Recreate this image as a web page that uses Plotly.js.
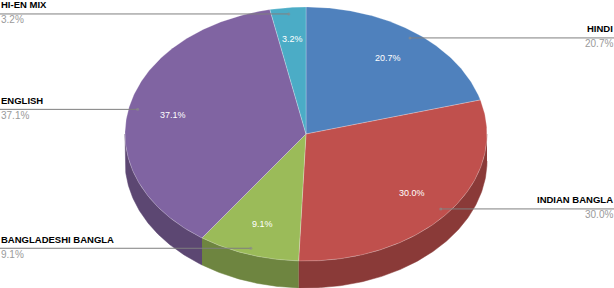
<!DOCTYPE html>
<html><head><meta charset="utf-8">
<script src="https://cdn.plot.ly/plotly-3.0.1.min.js"></script>
<style>html,body{margin:0;padding:0;background:#fff;overflow:hidden}#chart{width:614px;height:288px}</style>
</head><body><div id="chart"></div>
<script>
// ---- data ----
const categories = ['HINDI', 'INDIAN BANGLA', 'BANGLADESHI BANGLA', 'ENGLISH', 'HI-EN MIX'];
const values = [20.7, 30.0, 9.1, 37.1, 3.2];

// ---- styles ----
const topColors  = ['#4F81BD', '#C0504D', '#9BBB59', '#8064A2', '#4BACC6'];
const sideColors = ['#3A5F8C', '#8A3A38', '#6E8540', '#5C4772', '#367E91'];
const W = 614, H = 288;
const cx = 306, cy = 134, rx = 181, ry = 127, depth = 27;
const FONT = 'Liberation Sans, Arial, sans-serif';

function pt(theta, f, dy) {
  return [cx + rx * f * Math.sin(theta), cy - ry * f * Math.cos(theta) + (dy || 0)];
}
function arc(a0, a1, f, dy) {
  const n = Math.max(2, Math.ceil(Math.abs(a1 - a0) / 0.01));
  const xs = [], ys = [];
  for (let i = 0; i <= n; i++) {
    const p = pt(a0 + (a1 - a0) * i / n, f, dy);
    xs.push(p[0]); ys.push(p[1]);
  }
  return [xs, ys];
}

const total = values.reduce((a, b) => a + b, 0);
const slices = [];
let acc = 0;
values.forEach((v, i) => {
  const a0 = acc / total * 2 * Math.PI;
  acc += v;
  const a1 = acc / total * 2 * Math.PI;
  slices.push({a0, a1, mid: (a0 + a1) / 2, i});
});

const traces = [];
// side walls (front half only)
slices.forEach(s => {
  const lo = Math.max(s.a0, Math.PI / 2), hi = Math.min(s.a1, 3 * Math.PI / 2);
  if (hi <= lo) return;
  const t = arc(lo, hi, 1, 0), b = arc(hi, lo, 1, depth);
  traces.push({
    type: 'scatter', mode: 'lines', x: t[0].concat(b[0]), y: t[1].concat(b[1]),
    fill: 'toself', fillcolor: sideColors[s.i], line: {color: sideColors[s.i], width: 0.5},
    hoverinfo: 'skip', showlegend: false
  });
});
// top faces
slices.forEach(s => {
  const a = arc(s.a0, s.a1, 1, 0);
  traces.push({
    type: 'scatter', mode: 'lines', x: [cx].concat(a[0], [cx]), y: [cy].concat(a[1], [cy]),
    fill: 'toself', fillcolor: topColors[s.i], line: {color: 'rgba(255,255,255,0.35)', width: 0.7},
    hoverinfo: 'skip', showlegend: false
  });
});
// leader lines + labels
const annotations = [];
slices.forEach(s => {
  const p = pt(s.mid, 0.95, 0);
  const left = p[0] < cx;
  const xEnd = left ? 0 : W;
  traces.push({
    type: 'scatter', mode: 'lines+markers', x: [p[0], xEnd], y: [p[1], p[1]],
    line: {color: '#7f7f7f', width: 1},
    marker: {size: [3, 0], color: '#8a8a8a', line: {width: 0}},
    hoverinfo: 'skip', showlegend: false
  });
  const pctText = values[s.i].toFixed(1) + '%';
  annotations.push({
    x: xEnd, y: p[1] - 9, xref: 'x', yref: 'y', xanchor: left ? 'left' : 'right', yanchor: 'middle',
    text: '<b>' + categories[s.i] + '</b>', showarrow: false, borderpad: 0,
    font: {family: FONT, size: 9.5, color: '#000'}
  });
  annotations.push({
    x: xEnd, y: p[1] + 6, xref: 'x', yref: 'y', xanchor: left ? 'left' : 'right', yanchor: 'middle',
    text: pctText, showarrow: false, borderpad: 0,
    font: {family: FONT, size: 10, color: '#9a9a9a'}
  });
  const q = pt(s.mid, 0.75, 0);
  annotations.push({
    x: q[0], y: q[1], xref: 'x', yref: 'y', xanchor: 'center', yanchor: 'middle',
    text: pctText, showarrow: false, borderpad: 0,
    font: {family: FONT, size: 9, color: '#ffffff'}
  });
});

const layout = {
  width: W, height: H, margin: {l: 0, r: 0, t: 0, b: 0},
  paper_bgcolor: '#fff', plot_bgcolor: '#fff',
  xaxis: {range: [0, W], visible: false, fixedrange: true},
  yaxis: {range: [H, 0], visible: false, fixedrange: true},
  annotations, showlegend: false
};
Plotly.newPlot('chart', traces, layout, {staticPlot: true});
</script></body></html>
